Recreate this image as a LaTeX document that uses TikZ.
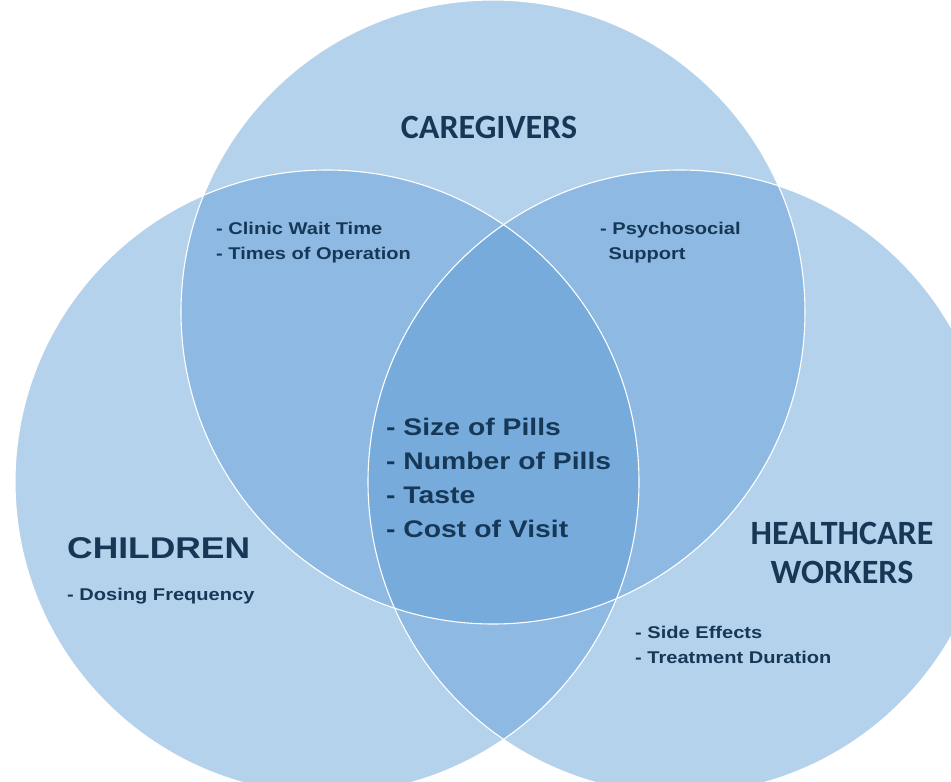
\documentclass[tikz,border=0pt]{standalone}
\usepackage{fontspec}
\setmainfont{Liberation Sans}[FakeStretch=1.18]
\newfontfamily\calibri{Carlito}
\definecolor{vennblue}{RGB}{91,155,213}
\definecolor{navy}{RGB}{22,56,86}
\tikzset{
  group/.style={fill=vennblue, fill opacity=0.45},
  rim/.style={draw=white, line width=1.1pt},
  grouptitle/.style={text=navy, font=\calibri\bfseries\fontsize{34}{39}\selectfont, align=center, inner sep=0pt},
  grouplabel/.style={text=navy, font=\bfseries\fontsize{30}{34}\selectfont, inner sep=0pt},
  items/.style={text=navy, font=\bfseries\fontsize{17}{25}\selectfont, align=left, inner sep=0pt, anchor=west},
  core/.style={text=navy, font=\bfseries\fontsize{24}{34}\selectfont, align=left, inner sep=0pt, anchor=west}
}
\begin{document}
\begin{tikzpicture}[x=1pt, y=-1pt]
    \useasboundingbox (0,0) rectangle (951,782);
    \begin{scope}
        \clip (0,0) rectangle (951,782);
        % the three groups
        \fill[group] (493,312) circle (312);
        \fill[group] (327,482) circle (312);
        \fill[group] (680,482) circle (312);
        \draw[rim] (493,312) circle (312);
        \draw[rim] (327,482) circle (312);
        \draw[rim] (680,482) circle (312);
    \end{scope}

    \node[grouptitle] (caregivers) at (489,127) {CAREGIVERS};
    \node[grouplabel, anchor=west] (children) at (67,548) {CHILDREN};
    \node[grouptitle] (workers) at (842,553) {HEALTHCARE\\WORKERS};

    \node[items] (waits) at (216,243) {- Clinic Wait Time\\- Times of Operation};
    \node[items] (support) at (600,243) {- Psychosocial\\\hspace*{0.5em}Support};
    \node[items] (dosing) at (67,596) {- Dosing Frequency};
    \node[items] (effects) at (635,645) {- Side Effects\\- Treatment Duration};
    \node[core] (shared) at (386,478) {- Size of Pills\\- Number of Pills\\- Taste\\- Cost of Visit};
\end{tikzpicture}
\end{document}
